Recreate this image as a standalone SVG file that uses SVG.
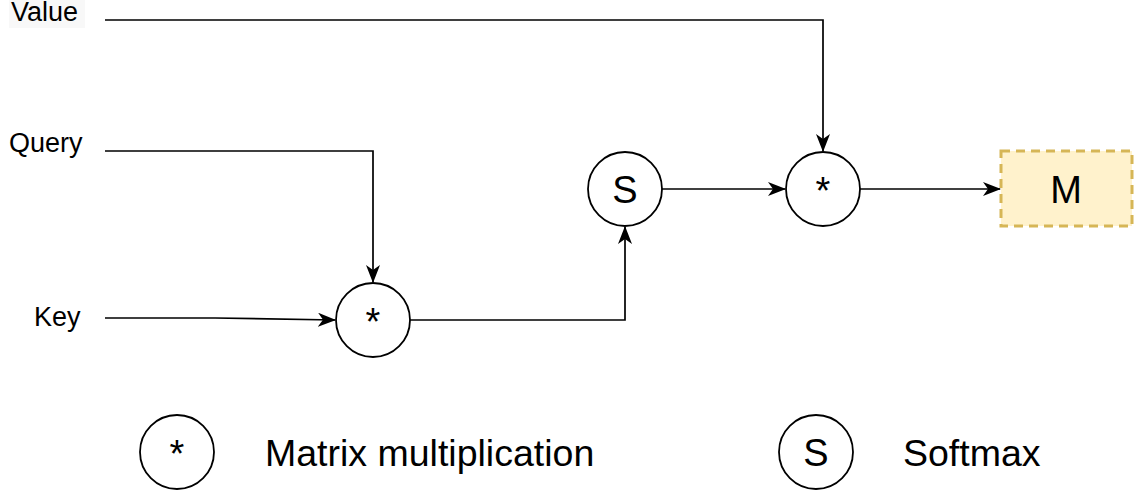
<svg xmlns="http://www.w3.org/2000/svg" width="1135" height="492" viewBox="0 0 1135 492">
  <style>
    .lbl { font-family: "Liberation Sans", Arial, sans-serif; font-size: 27px; fill: #000; }
    .op { fill: #fff; stroke: #000; stroke-width: 1.8; }
    .opt { font-family: "Liberation Sans", Arial, sans-serif; font-size: 38px; fill: #000; text-anchor: middle; }
    .leg { font-family: "Liberation Sans", Arial, sans-serif; font-size: 37.5px; fill: #000; }
    .edge { fill: none; stroke: #000; stroke-width: 1.7; }
  </style>
  <defs>
    <marker id="arrow" viewBox="0 0 18 14" refX="17" refY="7" markerWidth="18" markerHeight="14" markerUnits="userSpaceOnUse" orient="auto">
      <path d="M0,0 L18,7 L0,14 L5,7 Z" fill="#000"/>
    </marker>
  </defs>

  <rect width="1135" height="492" fill="#fff"/>

  <!-- input labels -->
  <g id="value">
    <rect x="9" y="0" width="76" height="28" fill="#f8f8f8"/>
    <text class="lbl" x="11" y="21">Value</text>
  </g>
  <g id="query"><text class="lbl" x="9" y="152">Query</text></g>
  <g id="key"><text class="lbl" x="34" y="326">Key</text></g>

  <!-- operations -->
  <g id="mul1">
    <circle class="op" cx="373" cy="320" r="37"/>
    <text class="opt" x="373" y="335">*</text>
  </g>
  <g id="softmax">
    <circle class="op" cx="625" cy="189" r="37"/>
    <text class="opt" x="625" y="203">S</text>
  </g>
  <g id="mul2">
    <circle class="op" cx="823" cy="189" r="37"/>
    <text class="opt" x="823" y="204">*</text>
  </g>
  <g id="output">
    <rect x="1001" y="151" width="131" height="75" fill="#fff2cc" stroke="#d6b656" stroke-width="3" stroke-dasharray="9 6"/>
    <text class="opt" x="1066" y="203">M</text>
  </g>

  <!-- connectors -->
  <g id="connectors">
    <path class="edge" d="M105,20 L823,20 L823,151" marker-end="url(#arrow)"/>
    <path class="edge" d="M105,151 L373,151 L373,282" marker-end="url(#arrow)"/>
    <path class="edge" d="M105,318 L215,318 L335,320" marker-end="url(#arrow)"/>
    <path class="edge" d="M410,320 L625,320 L625,227" marker-end="url(#arrow)"/>
    <path class="edge" d="M662,189 L785,189" marker-end="url(#arrow)"/>
    <path class="edge" d="M860,189 L1000,189" marker-end="url(#arrow)"/>
  </g>

  <!-- legend -->
  <g id="legend-mul">
    <circle class="op" cx="177" cy="452" r="37"/>
    <text class="opt" x="177" y="467">*</text>
    <text class="leg" x="265" y="466">Matrix multiplication</text>
  </g>
  <g id="legend-softmax">
    <circle class="op" cx="816" cy="452" r="37"/>
    <text class="opt" x="816" y="466">S</text>
    <text class="leg" x="903" y="466">Softmax</text>
  </g>
</svg>
